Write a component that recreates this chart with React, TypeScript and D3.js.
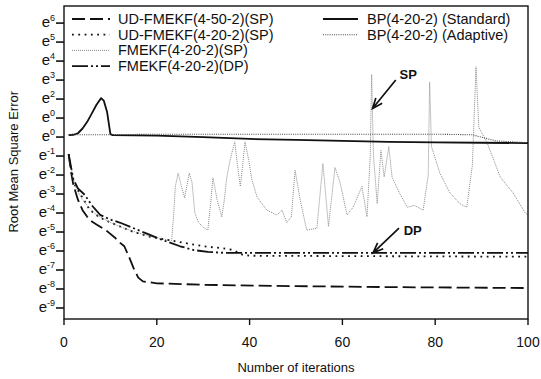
import * as d3 from 'd3';

// y values are positions on the (odd) printed log axis: 6 -> e^6 ... 1 -> first e^0, 0 -> second e^0, -k -> e^-k
const yTickValues = [6, 5, 4, 3, 2, 1, 0, -1, -2, -3, -4, -5, -6, -7, -8, -9];
const yTickExps = ['6', '5', '4', '3', '2', '0', '0', '-1', '-2', '-3', '-4', '-5', '-6', '-7', '-8', '-9'];
const xTicks = [0, 20, 40, 60, 80, 100];

const udFmekf50: [number, number][] = [
  [1, -0.9], [1.5, -1.8], [2, -2.5], [3, -3.3], [4, -3.85], [5, -4.2], [6, -4.45], [7, -4.6],
  [9, -4.9], [11, -5.3], [12, -5.55], [13, -5.75], [14, -6.3], [15, -6.9], [16, -7.4], [17, -7.6],
  [20, -7.7], [30, -7.78], [50, -7.85], [70, -7.9], [100, -7.95],
];
const udFmekf20: [number, number][] = [
  [1, -0.9], [2, -2.4], [3.4, -2.95], [5.6, -3.85], [7.8, -4.25], [10, -4.5], [12, -4.7], [15, -5.0],
  [18.5, -5.25], [22, -5.4], [26.5, -5.6], [30, -5.75], [34, -5.85], [36.5, -5.95], [38.5, -6.2],
  [40, -6.25], [100, -6.3],
];
const fmekfSp: [number, number][] = [
  [1, -0.9], [2, -2.2], [3, -2.9], [4, -3.3], [5, -3.6], [7, -4.1], [10, -4.5], [13, -4.8], [16, -5.05],
  [19, -5.25], [22, -5.4], [23.2, -5.45], [23.6, -4.2], [24, -2.6], [24.6, -1.9], [25.2, -2.5], [26, -3.2],
  [27, -1.9], [27.6, -2.4], [28.2, -4.0], [29, -4.5], [30, -4.75], [31, -4.9], [31.6, -3.5], [32.1, -2.15],
  [33, -3.3], [34, -4.2], [34.5, -3.4], [35.1, -2.1], [35.8, -1.2], [36.8, -0.25], [37.4, -1.5], [38, -2.6],
  [38.5, -1.5], [39, -0.25], [39.8, -1.2], [40.5, -2.25], [41.6, -3.15], [43.7, -3.85], [45.9, -4.1],
  [47, -3.85], [48, -4.5], [49, -4.2], [49.8, -1.75], [50.9, -3.3], [52.3, -4.9], [54.5, -4.8], [55.8, -1.4],
  [57, -4.7], [58.4, -1.6], [59.5, -2.4], [61, -4.1], [62.3, -3.7], [64.2, -2.6], [65.3, -4.2], [66, -1.0],
  [66.3, 3.3], [66.7, -1.0], [67.5, -3.5], [68.3, -0.7], [69, -2.1], [70, -0.5], [70.7, -2.1], [72.2, -2.9],
  [74, -3.7], [75.5, -3.6], [77.4, -3.85], [78.5, -2.0], [78.8, 2.9], [79.2, -0.5], [81, -1.9], [83.2, -2.95],
  [85.3, -3.5], [86.8, -3.7], [88, -1.5], [88.8, 3.7], [89.4, 0.5], [91.2, -0.3], [94, -2.1], [96.8, -2.95],
  [99.4, -4.0], [100, -4.1],
];
const fmekfDp: [number, number][] = [
  [1, -0.9], [2, -2.2], [3, -2.7], [4.5, -3.05], [6, -3.6], [7.8, -4.1], [10, -4.35], [12, -4.5],
  [15, -4.8], [18, -5.1], [21, -5.4], [25, -5.75], [28, -5.95], [31, -6.05], [35, -6.1], [100, -6.1],
];
const bpStandard: [number, number][] = [
  [1, 0.1], [2, 0.12], [3, 0.2], [4, 0.45], [5, 0.8], [6, 1.25], [7, 1.7], [8, 2.05], [8.6, 1.9],
  [9.3, 1.3], [10, 0.15], [10.5, 0.1], [20, 0.08], [30, 0.0], [40, -0.1], [50, -0.15], [60, -0.2],
  [70, -0.25], [80, -0.28], [90, -0.3], [100, -0.32],
];
const bpAdaptive: [number, number][] = [
  [1, 0.12], [8.5, 0.12], [20, 0.15], [40, 0.15], [60, 0.15], [80, 0.15], [88, 0.12], [93, -0.2], [100, -0.3],
];

const series = [
  { name: 'UD-FMEKF(4-50-2)(SP)', data: udFmekf50, color: '#111', width: 1.8, dash: '13 5' },
  { name: 'UD-FMEKF(4-20-2)(SP)', data: udFmekf20, color: '#111', width: 1.8, dash: '1.8 4.5' },
  { name: 'FMEKF(4-20-2)(SP)', data: fmekfSp, color: '#8a8a8a', width: 1, dash: '1 1' },
  { name: 'FMEKF(4-20-2)(DP)', data: fmekfDp, color: '#111', width: 1.8, dash: '16 3 2 3 2 3' },
  { name: 'BP(4-20-2) (Standard)', data: bpStandard, color: '#111', width: 1.8, dash: '' },
  { name: 'BP(4-20-2) (Adaptive)', data: bpAdaptive, color: '#444', width: 1.1, dash: '1 1.2' },
];

const W = 541;
const H = 379;
const margin = { left: 64, right: 13, top: 6, bottom: 60 };

export default function App() {
  const x = d3.scaleLinear().domain([0, 100]).range([margin.left, W - margin.right]);
  const y = d3.scaleLinear().domain([-9.58, 6.9]).range([H - margin.bottom, margin.top]);
  const line = d3.line<[number, number]>().x(d => x(d[0])).y(d => y(d[1]));
  const font = 'Liberation Sans, Arial, sans-serif';

  // arrow: tip and tail in data units
  const arrow = (tip: [number, number], tail: [number, number]) => {
    const [x1, y1] = [x(tip[0]), y(tip[1])];
    const [x2, y2] = [x(tail[0]), y(tail[1])];
    const a = Math.atan2(y2 - y1, x2 - x1);
    const len = 11;
    const b1 = [x1 + len * Math.cos(a + 0.38), y1 + len * Math.sin(a + 0.38)];
    const b2 = [x1 + len * Math.cos(a - 0.38), y1 + len * Math.sin(a - 0.38)];
    return `M${x2},${y2}L${x1},${y1}M${b1[0]},${b1[1]}L${x1},${y1}L${b2[0]},${b2[1]}`;
  };

  const legendCols = [
    { x0: 72, x1: 110, tx: 118, items: series.slice(0, 4) },
    { x0: 323, x1: 358, tx: 367, items: series.slice(4) },
  ];

  return (
    <svg width={W} height={H} style={{ position: 'absolute', left: 0, top: 0, background: '#fff' }} fontFamily={font}>
      <rect x={0} y={0} width={W} height={H} fill="#fff" />
      <defs>
        <clipPath id="plot">
          <rect x={x(0)} y={y(6.9)} width={x(100) - x(0)} height={y(-9.58) - y(6.9)} />
        </clipPath>
      </defs>

      {/* series */}
      <g clipPath="url(#plot)" fill="none">
        {series.map(s => (
          <path key={s.name} d={line(s.data) || ''} stroke={s.color} strokeWidth={s.width}
            strokeDasharray={s.dash || undefined} strokeLinejoin="round" />
        ))}
      </g>

      {/* frame */}
      <rect x={x(0)} y={y(6.9)} width={x(100) - x(0)} height={y(-9.58) - y(6.9)} fill="none" stroke="#111" strokeWidth={1.4} />

      {/* y axis */}
      {yTickValues.map((v, i) => (
        <g key={i}>
          <line x1={x(0) - 8} x2={x(0)} y1={y(v)} y2={y(v)} stroke="#111" strokeWidth={1.6} />
          <text x={55} y={y(v) + 4} textAnchor="end" fontSize={15} fill="#111">
            e<tspan fontSize={9} dy={-6}>{yTickExps[i]}</tspan>
          </text>
        </g>
      ))}

      {/* x axis */}
      {xTicks.map(t => (
        <g key={t}>
          <line x1={x(t)} x2={x(t)} y1={y(-9.58)} y2={y(-9.58) + 6} stroke="#111" strokeWidth={1.4} />
          <text x={x(t)} y={347} textAnchor="middle" fontSize={14} fill="#111">{t}</text>
        </g>
      ))}
      <text x={(x(0) + x(100)) / 2} y={372} textAnchor="middle" fontSize={13} fill="#111">Number of iterations</text>
      <text transform={`translate(18,${y(-1.3)}) rotate(-90)`} textAnchor="middle" fontSize={13} fill="#111">Root Mean Square Error</text>

      {/* legend */}
      {legendCols.map((col, ci) => col.items.map((s, i) => {
        const ly = 19 + i * 15.7;
        return (
          <g key={`${ci}-${i}`}>
            <line x1={col.x0} x2={col.x1} y1={ly} y2={ly} stroke={s.color} strokeWidth={s.width}
              strokeDasharray={s.dash || undefined} />
            <text x={col.tx} y={ly + 5} fontSize={14.5} fill="#111">{s.name}</text>
          </g>
        );
      }))}

      {/* annotations */}
      <path d={arrow([66.5, 1.5], [71.5, 3.0])} fill="none" stroke="#111" strokeWidth={1.7} />
      <text x={x(72.3)} y={y(3.3) + 5} fontSize={13} fontWeight="bold" fill="#111">SP</text>
      <path d={arrow([66.6, -6.1], [72.2, -4.8])} fill="none" stroke="#111" strokeWidth={1.7} />
      <text x={x(73.2)} y={y(-4.9) + 5} fontSize={13} fontWeight="bold" fill="#111">DP</text>
    </svg>
  );
}
